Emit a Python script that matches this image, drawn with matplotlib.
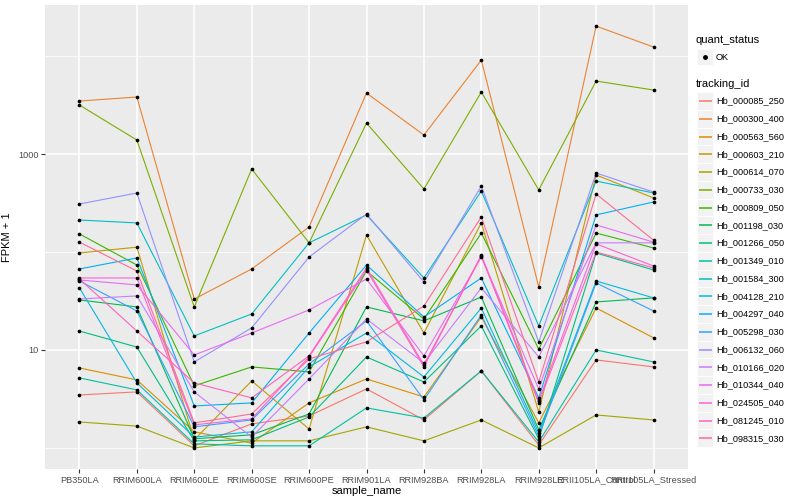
import numpy as np
import matplotlib.pyplot as plt
from matplotlib.patches import Rectangle

plt.rcParams['font.family'] = ['Liberation Sans', 'DejaVu Sans']

samples = ["PB350LA", "RRIM600LA", "RRIM600LE", "RRIM600SE", "RRIM600PE", "RRIM901LA",
           "RRIM928BA", "RRIM928LA", "RRIM928LE", "RRII105LA_Control", "RRII105LA_Stressed"]

tracking_ids = ["Hb_000085_250", "Hb_000300_400", "Hb_000563_560", "Hb_000603_210",
                "Hb_000614_070", "Hb_000733_030", "Hb_000809_050", "Hb_001198_030",
                "Hb_001266_050", "Hb_001349_010", "Hb_001584_300", "Hb_004128_210",
                "Hb_004297_040", "Hb_005298_030", "Hb_006132_060", "Hb_010166_020",
                "Hb_010344_040", "Hb_024505_040", "Hb_081245_010", "Hb_098315_030"]

# FPKM + 1 per sample (same order as samples)
hb_000085_250 = [3.47, 3.73, 1.05, 1.76, 2.12, 4.00, 1.93, 6.11, 1.07, 7.91, 6.71]
hb_000300_400 = [3475, 3819, 33.1, 67.1, 180, 4190, 1563, 9100, 44.0, 20230, 12360]
hb_000563_560 = [6.55, 4.94, 1.46, 1.12, 2.88, 5.06, 3.31, 21.7, 1.80, 26.8, 13.3]
hb_000603_210 = [97.7, 112, 1.21, 4.83, 1.56, 149, 14.9, 198, 2.33, 611, 356]
hb_000614_070 = [1.84, 1.67, 1.00, 1.18, 1.18, 1.64, 1.18, 1.93, 1.00, 2.17, 1.93]
hb_000733_030 = [3162, 1390, 27.5, 703, 124, 2070, 440, 4295, 430, 5560, 4500]
hb_000809_050 = [153, 73.6, 4.30, 6.71, 5.97, 64.0, 20.7, 156, 10.2, 156, 110]
hb_001198_030 = [32.4, 27.5, 1.24, 1.36, 2.22, 27.5, 19.8, 34.7, 1.53, 30.9, 34.0]
hb_001266_050 = [15.6, 10.7, 1.18, 1.21, 2.07, 8.48, 4.71, 17.6, 1.24, 97.7, 65.5]
hb_001349_010 = [5.18, 3.91, 1.10, 1.05, 1.05, 2.56, 2.02, 6.11, 1.15, 10.0, 7.55]
hb_001584_300 = [212, 198, 13.9, 23.3, 124, 239, 54.3, 419, 17.6, 530, 400]
hb_004128_210 = [43.0, 4.61, 1.29, 1.46, 6.71, 14.9, 5.30, 26.8, 1.42, 50.6, 34.0]
hb_004297_040 = [67.1, 86.9, 2.68, 2.88, 14.9, 73.6, 21.7, 54.3, 3.24, 239, 324]
hb_005298_030 = [50.6, 25.0, 1.64, 1.93, 7.19, 19.8, 3.09, 22.8, 1.32, 48.3, 25.0]
hb_006132_060 = [309, 400, 7.55, 16.8, 88.9, 244, 49.4, 471, 12.1, 640, 409]
hb_010166_020 = [33.1, 35.6, 3.73, 1.29, 5.06, 20.7, 7.36, 43.0, 8.48, 124, 124]
hb_010344_040 = [51.8, 46.1, 8.89, 14.9, 25.6, 53.0, 8.69, 88.9, 4.00, 189, 126]
hb_024505_040 = [54.3, 54.3, 1.72, 1.98, 8.48, 65.5, 6.71, 93.2, 3.02, 121, 71.9]
hb_081245_010 = [53.0, 15.6, 4.61, 3.24, 8.69, 68.7, 7.03, 91.0, 2.88, 100, 68.7]
hb_098315_030 = [126, 64.0, 1.80, 2.22, 8.09, 12.1, 28.1, 228, 4.71, 391, 132]

series = [hb_000085_250, hb_000300_400, hb_000563_560, hb_000603_210, hb_000614_070,
          hb_000733_030, hb_000809_050, hb_001198_030, hb_001266_050, hb_001349_010,
          hb_001584_300, hb_004128_210, hb_004297_040, hb_005298_030, hb_006132_060,
          hb_010166_020, hb_010344_040, hb_024505_040, hb_081245_010, hb_098315_030]


def hcl(h, c=100, l=65):
    # polar Luv -> sRGB, like R's hcl()
    h = np.radians(h)
    u, v = c * np.cos(h), c * np.sin(h)
    xn, yn, zn = 95.047, 100.0, 108.883
    un = 4 * xn / (xn + 15 * yn + 3 * zn)
    vn = 9 * yn / (xn + 15 * yn + 3 * zn)
    Y = yn * ((l + 16) / 116) ** 3
    up = u / (13 * l) + un
    vp = v / (13 * l) + vn
    X = Y * 9 * up / (4 * vp)
    Z = Y * (12 - 3 * up - 20 * vp) / (4 * vp)
    X, Y, Z = X / 100, Y / 100, Z / 100
    rgb = np.array([3.240479 * X - 1.537150 * Y - 0.498535 * Z,
                    -0.969256 * X + 1.875992 * Y + 0.041556 * Z,
                    0.055648 * X - 0.204043 * Y + 1.057311 * Z])
    rgb = np.where(rgb > 0.0031308, 1.055 * np.abs(rgb) ** (1 / 2.4) - 0.055, 12.92 * rgb)
    return tuple(np.clip(rgb, 0, 1))


n = len(series)
colors = [hcl(h) for h in np.linspace(15, 375, n + 1)[:n]]

fig = plt.figure(figsize=(8, 5), dpi=100)
ax = fig.add_axes([45 / 800, 31 / 500, 643 / 800, 464 / 500])
ax.set_facecolor('#EBEBEB')

x = np.arange(len(samples))
for vals, col in zip(series, colors):
    ax.plot(x, vals, color=col, lw=0.8, zorder=2)
for vals in series:
    ax.scatter(x, vals, s=7, color='black', zorder=3, linewidths=0)

ax.set_yscale('log')
allv = np.log10(np.concatenate([np.array(s, float) for s in series]))
lo, hi = allv.min(), allv.max()
span = hi - lo
ax.set_ylim(10 ** (lo - 0.05 * span), 10 ** (hi + 0.05 * span))
ax.set_xlim(-0.6, len(samples) - 0.4)

ax.set_xticks(x)
ax.set_xticklabels(samples)
ax.set_yticks([10, 1000])
ax.set_yticklabels(['10', '1000'])
ax.set_yticks([1, 100, 10000], minor=True)
ax.set_yticklabels([], minor=True)
ax.grid(which='major', color='white', lw=1.1)
ax.grid(which='minor', axis='y', color='white', lw=0.55)
ax.set_axisbelow(True)
for sp in ax.spines.values():
    sp.set_visible(False)
ax.tick_params(which='major', color='#333333', length=2.7, width=0.8,
               labelsize=6.6, labelcolor='#4D4D4D', pad=2)
ax.tick_params(which='minor', length=0)
ax.set_xlabel('sample_name', fontsize=8, labelpad=1)
ax.set_ylabel('FPKM + 1', fontsize=8, labelpad=4)

# legend drawn in pixel coordinates
lax = fig.add_axes([0, 0, 1, 1], zorder=5)
lax.set_xlim(0, 800)
lax.set_ylim(500, 0)
lax.axis('off')

lax.text(696, 40, 'quant_status', fontsize=8, va='center', ha='left')
lax.add_patch(Rectangle((697, 49), 16, 16, facecolor='#F2F2F2', edgecolor='white', lw=0.5))
lax.plot([705], [57], 'o', color='black', ms=2.5)
lax.text(716, 57, 'OK', fontsize=6.6, va='center', ha='left')

lax.text(696, 84, 'tracking_id', fontsize=8, va='center', ha='left')
step = 17.75
for i, (name, col) in enumerate(zip(tracking_ids, colors)):
    yc = 101 + i * step
    lax.add_patch(Rectangle((697, yc - step / 2), 16, step, facecolor='#F2F2F2',
                            edgecolor='white', lw=0.5, zorder=1))
    lax.plot([698.5, 711.5], [yc, yc], color=col, lw=1.1, zorder=3,
             solid_capstyle='butt')
    lax.text(716, yc, name, fontsize=6.6, va='center', ha='left')

fig.savefig('out.png', dpi=100)
